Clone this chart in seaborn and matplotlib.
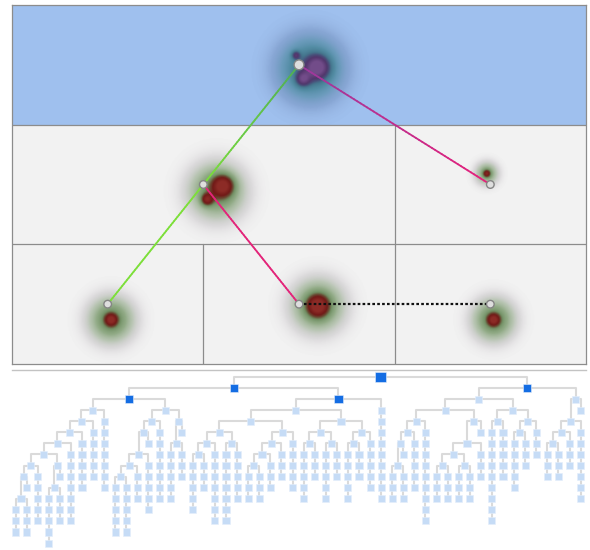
import re
import numpy as np
import pandas as pd
import matplotlib
matplotlib.use("Agg")
import matplotlib.pyplot as plt
import seaborn as sns
from matplotlib.collections import LineCollection
from matplotlib.colors import LinearSegmentedColormap, to_rgb
from matplotlib.patches import Rectangle

sns.set_theme(style="white")
plt.rcParams["font.family"] = ["DejaVu Sans"]

# ---------------------------------------------------------------- top map
# cells of each band, as spans in thirds of the width
ROW_CELLS = [[(0, 3)], [(0, 2), (2, 3)], [(0, 1), (1, 2), (2, 3)]]
ROW_COLORS = ["#9fc0ee", "#f2f2f2", "#f2f2f2"]

# stations: band and cell index
NODE_ROW = [0, 1, 1, 2, 2, 2]
NODE_CELL = [0, 0, 1, 0, 1, 2]

# links between stations
LINK_FROM = [0, 0, 1, 1, 4]
LINK_TO = [1, 2, 3, 4, 5]
LINK_START = ["#4fae55", "#9a3a9e", "#7ddf3a", "#e3257a", "#111111"]
LINK_END = ["#7ddf3a", "#e8207a", "#7ddf3a", "#e3257a", "#111111"]
LINK_DOTTED = [False, False, False, False, True]

# activity spots: position (x in thirds, y in bands), strength, spread (px)
SPOT_X = [1.599, 1.521, 1.484, 1.560,
          1.103, 1.019, 1.070, 2.483, 2.483,
          0.517, 0.517, 1.599, 1.599, 2.519, 2.519]
SPOT_Y = [0.518, 0.618, 0.418, 0.530,
          1.513, 1.630, 1.560, 1.412, 1.412,
          2.632, 2.632, 2.515, 2.515, 2.632, 2.632]
SPOT_PEAK = [0.70, 0.58, 0.48, 0.52,
             0.70, 0.58, 0.52, 0.52, 0.40,
             0.60, 0.52, 0.70, 0.52, 0.60, 0.52]
SPOT_SPREAD = [8, 5, 3, 19,
               7, 4, 17, 2.5, 7,
               4, 14, 7, 16, 4, 13]

# ---------------------------------------------------------------- tree
# notation: "(a b)" splits into two children, a number is a vertical run of
# that many nodes, "^" lowers a child by one extra level
BRANCH_A = ("((((((((^(3 3) 1) 5) (^(5 3) 1)) 7) 5) 5) 7) "
            "(((^(((5 5) 3) 5) 1) 7) (^(5 3) 1)))")
BRANCH_B = ("((((((5 3) 7) (7 5)) ((((3 3) 3) 3) 5)) "
            "(((5 3) (5 3)) ((5 3) 5))) 9)")
BRANCH_C = ("(((((^(3 3) 1) 5) 9) (^(((3 3) (3 3)) 3) 1)) "
            "((9 5) ((5 3) 3)))")
BRANCH_D = "(^(((3 3) 3) 7) 1)"
TREE = f"(({BRANCH_A} {BRANCH_B}) ({BRANCH_C} {BRANCH_D}))"
HIGHLIGHT = ["", "0", "1", "00", "01"]


def parse(text):
    tokens = re.findall(r"\(|\)|\^|\d+", text)
    pos = 0

    def node():
        nonlocal pos
        tok = tokens[pos]
        pos += 1
        if tok == "^":
            return ("drop", node())
        if tok == "(":
            a = node()
            b = node()
            pos += 1  # closing bracket
            return ("split", a, b)
        return ("run", int(tok))

    return node()


col_top = []
tree_nodes = []
tree_links = []


def place(n, level, path):
    if n[0] == "drop":
        return place(n[1], level + 1, path)
    if n[0] == "run":
        k = n[1]
        if k == 1 and col_top and col_top[-1] > level + 1:
            col = len(col_top) - 1
            col_top[-1] = level
        else:
            col_top.append(level)
            col = len(col_top) - 1
        for i in range(k):
            tree_nodes.append((col, level + i, path if i == 0 else path + "r"))
            if i:
                tree_links.append([(col, level + i - 1), (col, level + i)])
        return col, level
    xa, la = place(n[1], level + 1, path + "0")
    xb, lb = place(n[2], level + 1, path + "1")
    x = (xa + xb) / 2
    tree_nodes.append((x, level, path))
    tree_links.append([(x, level), (xa, level), (xa, la)])
    tree_links.append([(x, level), (xb, level), (xb, lb)])
    return x, level


place(parse(TREE), 0, "")
tree_df = pd.DataFrame(tree_nodes, columns=["x", "level", "path"])
tree_df["kind"] = np.where(tree_df["path"] == "", "root",
                           np.where(tree_df["path"].isin(HIGHLIGHT), "key", "plain"))

# ---------------------------------------------------------------- figure
W, H = 590, 550
fig = plt.figure(figsize=(W / 100, H / 100), dpi=100)
fig.patch.set_facecolor("white")

ax = fig.add_axes([12 / W, (H - 364) / H, 574 / W, 359 / H])
ax.set_xlim(0, 3)
ax.set_ylim(3, 0)
ax.set_xticks([])
ax.set_yticks([])
for s in ax.spines.values():
    s.set_color("#8c8c8c")
    s.set_linewidth(0.9)

for r, cells in enumerate(ROW_CELLS):
    for (a, b) in cells:
        ax.add_patch(Rectangle((a, r), b - a, 1, facecolor=ROW_COLORS[r],
                               edgecolor="none", zorder=0))
        if a > 0:
            ax.plot([a, a], [r, r + 1], color="#8c8c8c", lw=0.9, zorder=1)
    if r > 0:
        ax.plot([0, 3], [r, r], color="#8c8c8c", lw=0.9, zorder=1)

# density overlay per band
bbox = ax.get_position()
px_x = bbox.width * W / 3
px_y = bbox.height * H / 3

warm = LinearSegmentedColormap.from_list("warm", [
    (0.00, (0.60, 0.55, 0.60, 0.0)),
    (0.06, (0.58, 0.56, 0.58, 0.25)),
    (0.16, (0.50, 0.60, 0.46, 0.50)),
    (0.30, (0.42, 0.56, 0.36, 0.72)),
    (0.46, (0.36, 0.50, 0.30, 0.86)),
    (0.58, (0.38, 0.26, 0.16, 0.95)),
    (0.72, (0.44, 0.10, 0.09, 1.0)),
    (1.00, (0.55, 0.17, 0.15, 1.0)),
])
cool = LinearSegmentedColormap.from_list("cool", [
    (0.00, (0.32, 0.38, 0.55, 0.0)),
    (0.06, (0.30, 0.40, 0.58, 0.28)),
    (0.16, (0.24, 0.48, 0.56, 0.52)),
    (0.30, (0.22, 0.48, 0.54, 0.75)),
    (0.46, (0.22, 0.42, 0.50, 0.88)),
    (0.58, (0.27, 0.28, 0.45, 0.95)),
    (0.72, (0.32, 0.21, 0.42, 1.0)),
    (1.00, (0.45, 0.30, 0.54, 1.0)),
])

for r in range(3):
    gx = np.linspace(0, 3, 700)
    gy = np.linspace(r, r + 1, 160)
    X, Y = np.meshgrid(gx, gy)
    dens = np.zeros_like(X)
    for sx, sy, pk, sd in zip(SPOT_X, SPOT_Y, SPOT_PEAK, SPOT_SPREAD):
        if int(sy) != r:
            continue
        d2 = ((X - sx) * px_x) ** 2 + ((Y - sy) * px_y) ** 2
        dens += pk * np.exp(-d2 / (2 * sd ** 2))
    dens = np.clip(dens, 0, 1)
    ax.imshow(dens, extent=(0, 3, r + 1, r), cmap=cool if r == 0 else warm,
              vmin=0, vmax=1, interpolation="bilinear", zorder=2, aspect="auto")

# station positions (cell centres)
node_x = [np.mean(ROW_CELLS[r][c]) for r, c in zip(NODE_ROW, NODE_CELL)]
node_y = [r + 0.5 for r in NODE_ROW]

for f, t, c0, c1, dotted in zip(LINK_FROM, LINK_TO, LINK_START, LINK_END, LINK_DOTTED):
    x0, y0, x1, y1 = node_x[f], node_y[f], node_x[t], node_y[t]
    if dotted:
        ax.plot([x0, x1], [y0, y1], color=c0, lw=1.6, ls=(0, (1.2, 1.0)), zorder=3)
        continue
    tt = np.linspace(0, 1, 60)
    px = x0 + (x1 - x0) * tt
    py = y0 + (y1 - y0) * tt
    segs = np.stack([np.column_stack([px[:-1], py[:-1]]),
                     np.column_stack([px[1:], py[1:]])], axis=1)
    a, b = np.array(to_rgb(c0)), np.array(to_rgb(c1))
    cols = [a + (b - a) * v for v in (tt[:-1] + tt[1:]) / 2]
    ax.add_collection(LineCollection(segs, colors=cols, linewidths=1.3,
                                     capstyle="round", zorder=3))

top_df = pd.DataFrame({"x": node_x, "y": node_y,
                       "kind": ["root"] + ["stop"] * 5})
sns.scatterplot(data=top_df, x="x", y="y", size="kind",
                sizes={"root": 50, "stop": 30}, color="#dedede",
                edgecolor="#858585", linewidth=1.0, legend=False, ax=ax, zorder=4)
ax.set_xlabel("")
ax.set_ylabel("")

# ---------------------------------------------------------------- tree axes
UNIT = 11.08
X0_PX = 15.5
L0_PX = 377
ROW_PX = 11.07
tax = fig.add_axes([12 / W, 0, 574 / W, (H - 370) / H])
tax.set_xlim((12 - X0_PX) / UNIT, (586 - X0_PX) / UNIT)
tax.set_ylim((550 - L0_PX) / ROW_PX, (370 - L0_PX) / ROW_PX)
tax.set_xticks([])
tax.set_yticks([])
for k, s in tax.spines.items():
    s.set_visible(k == "top")
tax.spines["top"].set_color("#c3c3c3")
tax.spines["top"].set_linewidth(1.0)

tax.add_collection(LineCollection(tree_links, colors="#dadada", linewidths=1.5,
                                  zorder=1, clip_on=False))
sns.scatterplot(data=tree_df, x="x", y="level", hue="kind", size="kind",
                palette={"root": "#146de3", "key": "#146de3", "plain": "#c6dcf6"},
                sizes={"root": 58, "key": 34, "plain": 26},
                marker="s", linewidth=0.4, edgecolor="#e4eefb",
                legend=False, ax=tax, zorder=2, clip_on=False)
tax.set_xlabel("")
tax.set_ylabel("")

fig.savefig("out.png", dpi=100, facecolor="white")
